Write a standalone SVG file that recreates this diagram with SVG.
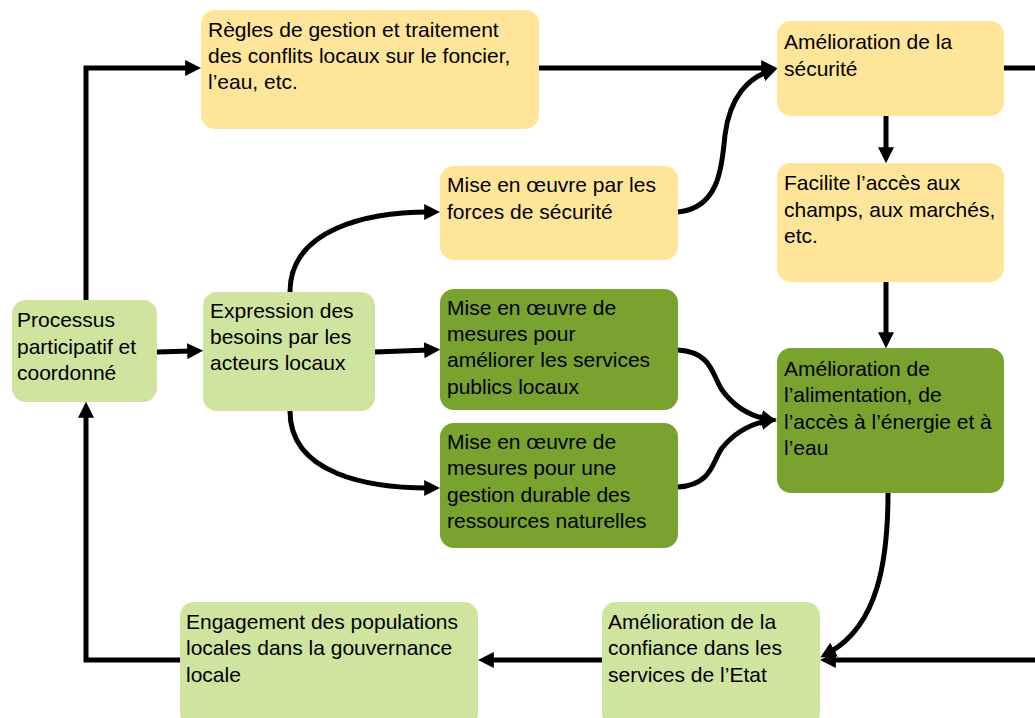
<svg xmlns="http://www.w3.org/2000/svg" width="1035" height="718" viewBox="0 0 1035 718">
<style>
.n rect{stroke:none}
.y{fill:#FFE599}
.lg{fill:#CFE49F}
.dg{fill:#79A22F}
text{font-family:"Liberation Sans",Arial,sans-serif;font-size:21px;fill:#000}
.c path{fill:none;stroke:#000;stroke-width:5;marker-end:url(#ah)}
.c path.na{marker-end:none}
</style>
<defs>
<marker id="ah" viewBox="0 0 10 10" refX="3" refY="5" markerWidth="16" markerHeight="16" markerUnits="userSpaceOnUse" orient="auto">
<path d="M0,0 L10,5 L0,10 z" fill="#000"/>
</marker>
</defs>
<g class="c" id="connectors">
<path d="M86,300 L86,68 L190,68"/>
<path d="M539,68 L766,68"/>
<path class="na" d="M1004,68 L1035,68"/>
<path d="M886,116 L886,152"/>
<path d="M886,282 L886,337"/>
<path d="M888,493 C888,560 878,625 830,652"/>
<path d="M1035,660 L831,660"/>
<path d="M602,660 L489,660"/>
<path d="M180,660 L86,660 L86,413"/>
<path d="M157,352 L192,351"/>
<path d="M375,352 L429,350"/>
<path d="M290,292 C290,228 370,212 429,212"/>
<path d="M290,411 C290,475 370,488 429,488"/>
<path d="M678,212 C722,208 722,160 725,135 C730,95 750,78 767,72"/>
<path d="M678,350 C712,352 712,375 722,390 C735,408 752,416 766,419"/>
<path d="M678,487 C712,485 712,462 722,448 C735,432 752,424 766,421"/>
</g>
<g class="n" id="regles"><rect class="y" x="201" y="10" width="338" height="119" rx="14"/>
<text><tspan x="208" y="37">Règles de gestion et traitement</tspan><tspan x="208" y="63">des conflits locaux sur le foncier,</tspan><tspan x="208" y="89">l’eau, etc.</tspan></text></g>
<g class="n" id="securite"><rect class="y" x="777" y="21" width="227" height="95" rx="14"/>
<text><tspan x="784" y="49">Amélioration de la</tspan><tspan x="784" y="76">sécurité</tspan></text></g>
<g class="n" id="facilite"><rect class="y" x="777" y="163" width="227" height="119" rx="14"/>
<text><tspan x="784" y="190">Facilite l’accès aux</tspan><tspan x="784" y="217">champs, aux marchés,</tspan><tspan x="784" y="243">etc.</tspan></text></g>
<g class="n" id="forces"><rect class="y" x="440" y="166" width="238" height="94" rx="14"/>
<text><tspan x="447" y="192">Mise en œuvre par les</tspan><tspan x="447" y="219">forces de sécurité</tspan></text></g>
<g class="n" id="processus"><rect class="lg" x="12" y="300" width="145" height="102" rx="14"/>
<text><tspan x="17" y="327">Processus</tspan><tspan x="17" y="354">participatif et</tspan><tspan x="17" y="380">coordonné</tspan></text></g>
<g class="n" id="expression"><rect class="lg" x="203" y="292" width="172" height="119" rx="14"/>
<text><tspan x="210" y="318">Expression des</tspan><tspan x="210" y="344">besoins par les</tspan><tspan x="210" y="370">acteurs locaux</tspan></text></g>
<g class="n" id="services"><rect class="dg" x="440" y="289" width="238" height="121" rx="14"/>
<text><tspan x="447" y="315">Mise en œuvre de</tspan><tspan x="447" y="341">mesures pour</tspan><tspan x="447" y="367">améliorer les services</tspan><tspan x="447" y="394">publics locaux</tspan></text></g>
<g class="n" id="ressources"><rect class="dg" x="440" y="423" width="238" height="125" rx="14"/>
<text><tspan x="447" y="449">Mise en œuvre de</tspan><tspan x="447" y="475">mesures pour une</tspan><tspan x="447" y="502">gestion durable des</tspan><tspan x="447" y="528">ressources naturelles</tspan></text></g>
<g class="n" id="alimentation"><rect class="dg" x="777" y="348" width="227" height="145" rx="14"/>
<text><tspan x="784" y="376">Amélioration de</tspan><tspan x="784" y="402">l’alimentation, de</tspan><tspan x="784" y="429">l’accès à l’énergie et à</tspan><tspan x="784" y="455">l’eau</tspan></text></g>
<g class="n" id="engagement"><rect class="lg" x="180" y="602" width="298" height="125" rx="14"/>
<text><tspan x="186" y="629">Engagement des populations</tspan><tspan x="186" y="655">locales dans la gouvernance</tspan><tspan x="186" y="682">locale</tspan></text></g>
<g class="n" id="confiance"><rect class="lg" x="602" y="602" width="218" height="125" rx="14"/>
<text><tspan x="608" y="629">Amélioration de la</tspan><tspan x="608" y="655">confiance dans les</tspan><tspan x="608" y="682">services de l’Etat</tspan></text></g>
</svg>
